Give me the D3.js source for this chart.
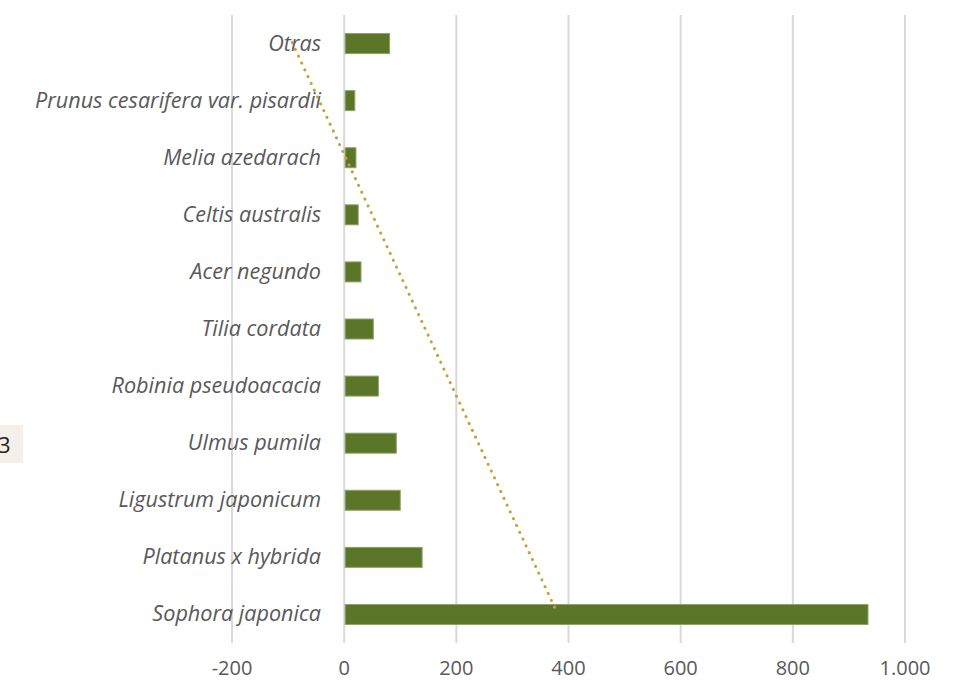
<!DOCTYPE html>
<html lang="es">
<head>
<meta charset="utf-8" />
<title>Especies</title>
<script src="https://cdn.jsdelivr.net/npm/d3@7"></script>
<style>
  body { margin: 0; background: #fff; }
  text { font-family: "Open Sans", Lato, sans-serif; fill: #595959; }
</style>
</head>
<body>
<script>
// categories from top to bottom
var species = ["Otras", "Prunus cesarifera var. pisardii", "Melia azedarach", "Celtis australis",
  "Acer negundo", "Tilia cordata", "Robinia pseudoacacia", "Ulmus pumila",
  "Ligustrum japonicum", "Platanus x hybrida", "Sophora japonica"];
var counts = [81, 19, 21, 25, 30, 52, 61, 93, 100, 139, 934];
var tickValues = [-200, 0, 200, 400, 600, 800, 1000];
var tickLabels = ["-200", "0", "200", "400", "600", "800", "1.000"];

var w = 966, h = 686;
var svg = d3.select("body").append("svg").attr("width", w).attr("height", h);

var x = d3.scaleLinear().domain([-200, 1000]).range([232, 905]);
var y = d3.scaleBand().domain(species).range([15, 643]).paddingInner(0.65).paddingOuter(0.325);

// side box with the "3"
svg.append("rect").attr("x", 0).attr("y", 425).attr("width", 23).attr("height", 38).attr("fill", "#f4f0e8");
svg.append("text").attr("x", -2).attr("y", 453).attr("font-size", "22px").style("fill", "#222").text("3");

// gridlines
svg.selectAll("line.grid")
  .data(tickValues)
  .enter()
  .append("line")
  .attr("class", "grid")
  .attr("x1", function(d) { return x(d); })
  .attr("x2", function(d) { return x(d); })
  .attr("y1", 15)
  .attr("y2", 643)
  .attr("stroke", "#d9d9d9")
  .attr("stroke-width", 2);

// tick labels
svg.selectAll("text.tick")
  .data(tickValues)
  .enter()
  .append("text")
  .attr("class", "tick")
  .attr("x", function(d) { return x(d); })
  .attr("y", 675)
  .attr("text-anchor", "middle")
  .attr("font-size", "20px")
  .text(function(d, i) { return tickLabels[i]; });

// bars
svg.selectAll("rect.bar")
  .data(counts)
  .enter()
  .append("rect")
  .attr("class", "bar")
  .attr("x", x(0) + 1)
  .attr("y", function(d, i) { return y(species[i]); })
  .attr("width", function(d) { return x(d) - x(0) - 1; })
  .attr("height", y.bandwidth())
  .attr("fill", "#5b7628")
  .attr("stroke", "#8ea26a")
  .attr("stroke-width", 1);

// category labels
svg.selectAll("text.cat")
  .data(species)
  .enter()
  .append("text")
  .attr("class", "cat")
  .attr("x", 321)
  .attr("y", function(d) { return y(d) + y.bandwidth() / 2 + 7; })
  .attr("text-anchor", "end")
  .attr("font-size", "21.6px")
  .attr("font-style", "italic")
  .text(function(d) { return d; });

// linear trendline (least squares over category order, bottom = 1)
var n = counts.length;
var pts = counts.map(function(v, i) { return [n - i, v]; });
var mx = d3.mean(pts, function(p) { return p[0]; });
var my = d3.mean(pts, function(p) { return p[1]; });
var sxy = d3.sum(pts, function(p) { return (p[0] - mx) * (p[1] - my); });
var sxx = d3.sum(pts, function(p) { return (p[0] - mx) * (p[0] - mx); });
var slope = sxy / sxx, icpt = my - slope * mx;
var yc = function(i) { return y(species[i]) + y.bandwidth() / 2; };
svg.append("line")
  .attr("x1", x(icpt + slope * n)).attr("y1", yc(0) - 1)
  .attr("x2", x(icpt + slope * 1)).attr("y2", yc(n - 1) - 7)
  .attr("stroke", "#c9a03a")
  .attr("stroke-width", 3)
  .attr("stroke-linecap", "round")
  .attr("stroke-dasharray", "0.1 7.4");
</script>
</body>
</html>
